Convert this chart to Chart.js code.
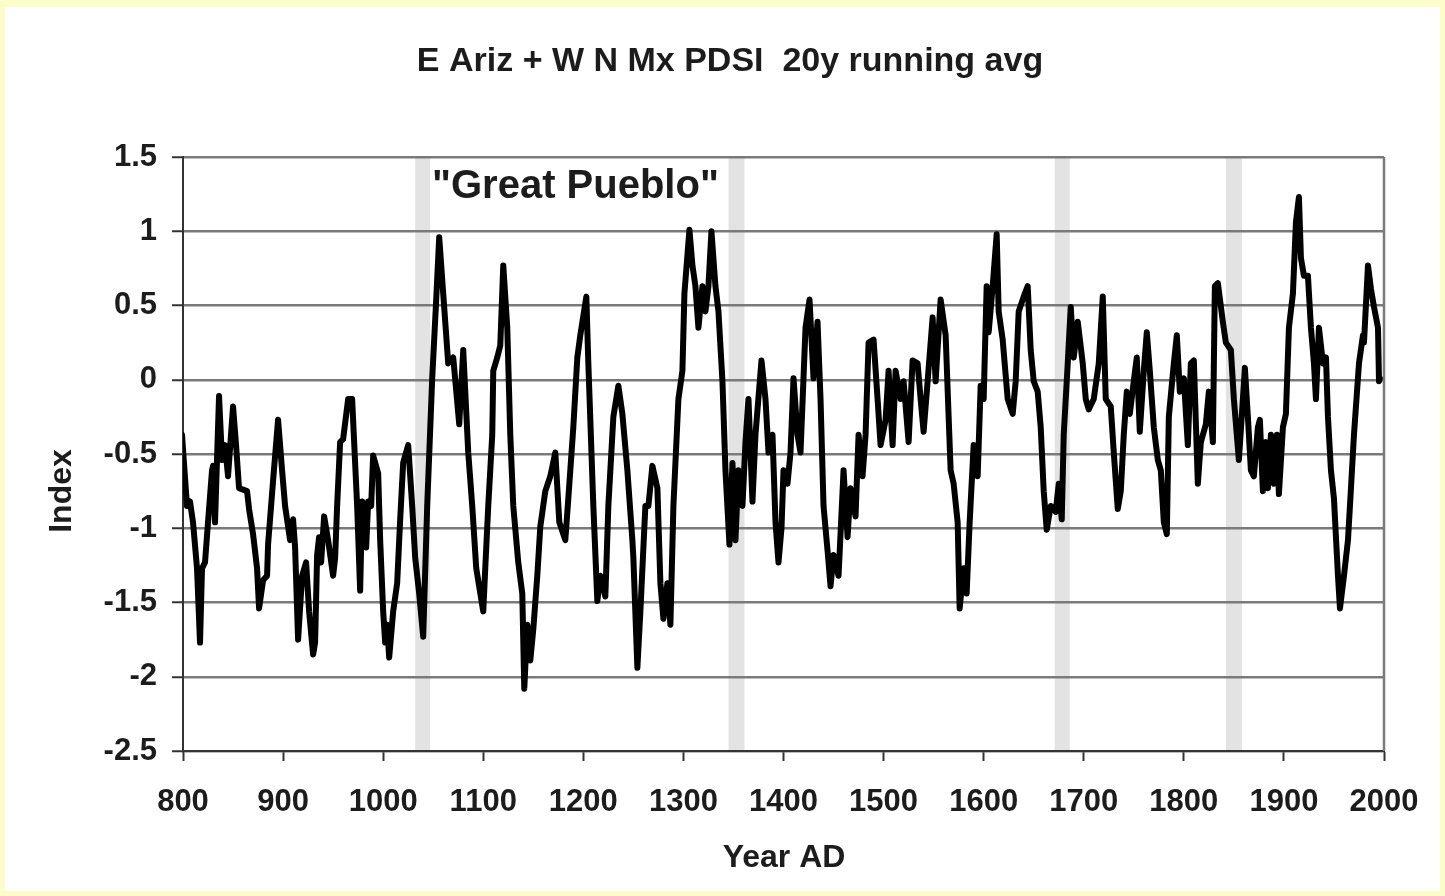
<!DOCTYPE html>
<html><head><meta charset="utf-8">
<script src="https://cdn.jsdelivr.net/npm/chart.js@4.4.0/dist/chart.umd.min.js"></script>
<style>html,body{margin:0;padding:0;background:#fdfdc9;overflow:hidden}
#wrap{position:absolute;left:0;top:0;width:1445px;height:896px}</style>
</head><body><div id="wrap"><canvas id="c" width="1445" height="896"></canvas></div>
<script>
const years = [799,804,807,810,814,817,819,822,825,829,830,832,836,839,842,845,850,853,856,864,866,870,874,876,880,884,885,890,895,899,
902,907,910,912,915,919,923,926,930,932,934,936,938,941,945,950,952,954,957,960,965,969,971,974,977,979,983,985,988,990,995,997,
1000,1002,1004,1006,1010,1014,1017,1020,1025,1029,1032,1036,1040,1044,1049,1053,1056,1060,1065,1070,1076,1080,1085,1089,1093,
1100,1102,1105,1109,1110,1114,1117,1120,1124,1127,1130,1135,1139,1141,1144,1147,1150,1154,1157,1162,1167,1172,1176,1182,1185,1190,1194,1197,
1203,1205,1210,1214,1217,1222,1225,1230,1235,1239,1244,1249,1250,1254,1257,1262,1265,1269,1274,1277,1280,1284,1287,1290,1295,1299,
1301,1306,1309,1312,1315,1319,1322,1325,1328,1332,1335,1339,1342,1346,1349,1352,1355,1359,1362,1365,1369,1372,1378,1382,1385,1389,1392,1395,1398,
1400,1404,1407,1410,1414,1417,1422,1426,1430,1434,1437,1440,1444,1447,1450,1455,1460,1464,1467,1472,1475,1479,1482,1485,1490,1494,1497,
1502,1505,1509,1512,1517,1520,1525,1529,1534,1537,1540,1544,1549,1552,1557,1562,1565,1567,1570,1574,1576,1580,1583,1586,1590,1594,1597,
1600,1603,1605,1609,1613,1615,1619,1624,1629,1632,1635,1640,1644,1647,1650,1654,1657,1660,1663,1667,1672,1675,1678,1680,1684,1687,1690,1694,1699,
1702,1705,1710,1715,1719,1722,1727,1730,1734,1737,1740,1743,1746,1750,1753,1756,1760,1763,1766,1770,1774,1777,1780,1783,1785,1790,1793,1796,
1800,1804,1807,1810,1814,1817,1822,1825,1829,1831,1834,1839,1842,1847,1850,1855,1859,1861,1864,1867,1870,1874,1876,1879,1882,1884,1887,1890,1893,1895,1899,
1902,1905,1909,1912,1915,1917,1920,1924,1927,1930,1932,1935,1939,1942,1944,1947,1950,1954,1956,1960,1964,1967,1970,1975,1979,1980,1984,1987,1990,1994,1995,1996];
const pdsi = [-0.37,-0.85,-0.82,-0.96,-1.27,-1.77,-1.27,-1.23,-0.96,-0.61,-0.58,-0.96,-0.11,-0.54,-0.44,-0.65,-0.18,-0.44,-0.73,-0.75,-0.87,-1.04,-1.27,-1.54,-1.35,-1.32,-1.11,-0.68,-0.27,-0.61,
-0.85,-1.08,-0.94,-1.13,-1.75,-1.32,-1.23,-1.56,-1.85,-1.77,-1.18,-1.06,-1.23,-0.92,-1.08,-1.32,-1.2,-0.85,-0.42,-0.40,-0.13,-0.13,-0.42,-0.85,-1.42,-0.82,-1.13,-0.82,-0.85,-0.51,-0.63,-1.08,
-1.56,-1.77,-1.65,-1.87,-1.56,-1.37,-0.94,-0.56,-0.44,-0.85,-1.2,-1.44,-1.73,-0.85,0.01,0.54,0.96,0.58,0.11,0.15,-0.30,0.2,-0.49,-0.85,-1.27,
-1.56,-1.27,-0.85,-0.37,0.06,0.15,0.23,0.77,0.35,-0.37,-0.85,-1.23,-1.44,-2.08,-1.65,-1.89,-1.68,-1.32,-0.99,-0.75,-0.65,-0.49,-0.96,-1.08,-0.80,-0.32,0.15,0.30,
0.56,0.11,-0.85,-1.49,-1.32,-1.46,-0.85,-0.25,-0.04,-0.23,-0.61,-1.08,-1.2,-1.94,-1.56,-0.85,-0.85,-0.58,-0.73,-1.37,-1.61,-1.37,-1.65,-0.85,-0.13,0.06,
0.58,1.01,0.77,0.63,0.35,0.63,0.46,0.63,1.0,0.63,0.46,-0.01,-0.61,-1.11,-0.56,-1.08,-0.61,-0.85,-0.42,-0.13,-0.82,-0.37,0.13,-0.13,-0.49,-0.37,-0.96,-1.23,-1.0,
-0.61,-0.70,-0.49,0.01,-0.37,-0.49,0.35,0.54,0.01,0.39,-0.13,-0.85,-1.15,-1.39,-1.18,-1.32,-0.61,-1.06,-0.73,-0.92,-0.37,-0.65,-0.37,0.25,0.27,-0.13,-0.44,
-0.27,0.06,-0.44,0.06,-0.13,-0.01,-0.42,0.13,0.11,-0.13,-0.35,-0.01,0.42,-0.01,0.54,0.30,-0.25,-0.61,-0.70,-0.96,-1.54,-1.27,-1.44,-0.96,-0.44,-0.65,-0.04,
-0.13,0.63,0.32,0.63,0.98,0.46,0.27,-0.13,-0.23,-0.01,0.46,0.56,0.63,0.20,-0.01,-0.08,-0.32,-0.75,-1.01,-0.85,-0.89,-0.70,-0.94,-0.37,0.11,0.49,0.15,0.39,0.11,
-0.13,-0.20,-0.13,0.11,0.56,-0.13,-0.18,-0.49,-0.87,-0.75,-0.37,-0.08,-0.23,-0.01,0.15,-0.35,0.06,0.32,0.06,-0.32,-0.54,-0.61,-0.96,-1.04,-0.25,0.11,0.30,-0.08,
0.01,-0.44,0.11,0.13,-0.70,-0.42,-0.30,-0.08,-0.42,0.63,0.65,0.39,0.25,0.20,-0.13,-0.54,-0.13,0.08,-0.25,-0.61,-0.65,-0.32,-0.27,-0.75,-0.42,-0.73,-0.37,-0.70,-0.37,-0.77,-0.32,
-0.23,0.35,0.58,1.06,1.23,0.82,0.70,0.70,0.35,0.11,-0.13,0.35,0.11,0.15,-0.25,-0.61,-0.80,-1.32,-1.54,-1.32,-1.08,-0.73,-0.37,0.11,0.30,0.25,0.77,0.61,0.49,0.35,-0.01,0.01];
const bandStart = [1032,1345,1671,1842];
const bandEnd = [1047,1361,1686,1858];
const xMin = 800, xMax = 2000, xStep = 100;
const yMin = -2.5, yMax = 1.5, yStep = 0.5;
const titleText = 'E Ariz + W N Mx PDSI  20y running avg';
const noteText = '"Great Pueblo"';
const xTitle = 'Year AD', yTitle = 'Index';

const FONT = 'Liberation Sans, Arial, sans-serif';
const TXT = '#1c1c1c';

const deco = {
  id: 'deco',
  beforeDraw(chart) {
    const {ctx, chartArea: a, scales: {x}} = chart;
    ctx.save();
    ctx.fillStyle = '#ffffff';
    ctx.fillRect(5, 7, 1435, 884);
    ctx.fillStyle = '#e3e3e3';
    for (let i = 0; i < bandStart.length; i++) {
      const x1 = x.getPixelForValue(bandStart[i]), x2 = x.getPixelForValue(bandEnd[i]);
      ctx.fillRect(x1, a.top, x2 - x1, a.bottom - a.top);
    }
    ctx.restore();
  },
  afterDraw(chart) {
    const {ctx, chartArea: a} = chart;
    ctx.save();
    ctx.strokeStyle = '#7a7a7a';
    ctx.lineWidth = 2.5;
    ctx.beginPath();
    ctx.moveTo(a.right, a.top); ctx.lineTo(a.right, a.bottom);
    ctx.stroke();
    ctx.fillStyle = TXT;
    ctx.textBaseline = 'middle';
    ctx.textAlign = 'center';
    ctx.font = 'bold 34px ' + FONT;
    ctx.fillText(titleText, 730, 62);
    ctx.font = 'bold 32px ' + FONT;
    ctx.fillText(xTitle, 784, 858);
    ctx.save();
    ctx.translate(62, 491);
    ctx.rotate(-Math.PI / 2);
    ctx.fillText(yTitle, 0, 0);
    ctx.restore();
    ctx.textAlign = 'left';
    ctx.font = 'bold 40px ' + FONT;
    ctx.fillText(noteText, 432, 187);
    ctx.restore();
  }
};

new Chart(document.getElementById('c'), {
  type: 'line',
  data: {
    datasets: [{
      data: years.map((yr, i) => ({x: yr, y: pdsi[i]})),
      borderColor: '#000000',
      borderWidth: 6,
      pointRadius: 0,
      tension: 0,
      borderJoinStyle: 'round',
      borderCapStyle: 'round'
    }]
  },
  options: {
    responsive: false,
    animation: false,
    devicePixelRatio: 1,
    layout: {padding: {top: 157, right: 61, left: 0, bottom: 0}},
    plugins: {legend: {display: false}, tooltip: {enabled: false}, title: {display: false}},
    scales: {
      x: {
        type: 'linear', min: xMin, max: xMax,
        ticks: {stepSize: xStep, callback: v => String(v), color: TXT, autoSkip: false, maxRotation: 0,
          font: {family: FONT, size: 31, weight: 'bold'}, padding: 23},
        grid: {drawOnChartArea: false, drawTicks: true, tickLength: 10, tickColor: '#333', tickWidth: 2},
        border: {color: '#333', width: 2},
        afterFit: s => { s.height = 145; }
      },
      y: {
        min: yMin, max: yMax,
        ticks: {stepSize: yStep, callback: v => String(Math.round(v * 10) / 10), color: TXT,
          font: {family: FONT, size: 31, weight: 'bold'}, padding: 15},
        grid: {color: '#7a7a7a', lineWidth: 2.5, tickLength: 11, tickColor: '#333', tickWidth: 2},
        border: {color: '#333', width: 2},
        afterFit: s => { s.width = 183; }
      }
    }
  },
  plugins: [deco]
});
</script>
</body></html>
